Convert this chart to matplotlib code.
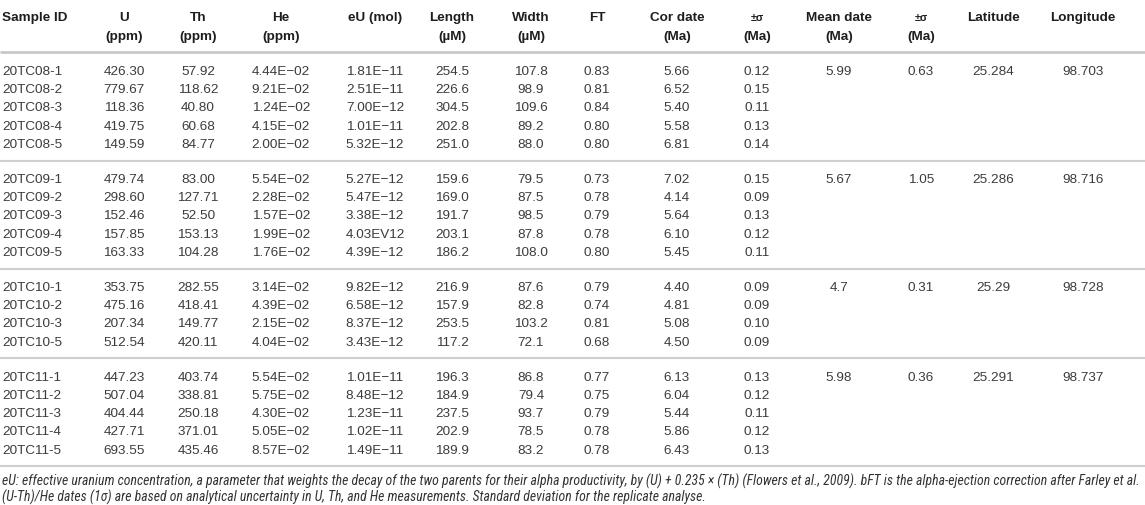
import matplotlib
matplotlib.use("Agg")
import matplotlib.pyplot as plt
from matplotlib import font_manager
from matplotlib.font_manager import FontProperties

# ---------------- data ----------------
sample_ids = ["20TC08-1", "20TC08-2", "20TC08-3", "20TC08-4", "20TC08-5",
              "20TC09-1", "20TC09-2", "20TC09-3", "20TC09-4", "20TC09-5",
              "20TC10-1", "20TC10-2", "20TC10-3", "20TC10-5",
              "20TC11-1", "20TC11-2", "20TC11-3", "20TC11-4", "20TC11-5"]
group_sizes = [5, 5, 4, 5]
u_ppm = [426.30, 779.67, 118.36, 419.75, 149.59,
         479.74, 298.60, 152.46, 157.85, 163.33,
         353.75, 475.16, 207.34, 512.54,
         447.23, 507.04, 404.44, 427.71, 693.55]
th_ppm = [57.92, 118.62, 40.80, 60.68, 84.77,
          83.00, 127.71, 52.50, 153.13, 104.28,
          282.55, 418.41, 149.77, 420.11,
          403.74, 338.81, 250.18, 371.01, 435.46]
he_ppm = [4.44e-2, 9.21e-2, 1.24e-2, 4.15e-2, 2.00e-2,
          5.54e-2, 2.28e-2, 1.57e-2, 1.99e-2, 1.76e-2,
          3.14e-2, 4.39e-2, 2.15e-2, 4.04e-2,
          5.54e-2, 5.75e-2, 4.30e-2, 5.05e-2, 8.57e-2]
eu_mol = ["1.81E−11", "2.51E−11", "7.00E−12", "1.01E−11", "5.32E−12",
          "5.27E−12", "5.47E−12", "3.38E−12", "4.03EV12", "4.39E−12",
          "9.82E−12", "6.58E−12", "8.37E−12", "3.43E−12",
          "1.01E−11", "8.48E−12", "1.23E−11", "1.02E−11", "1.49E−11"]
length_um = [254.5, 226.6, 304.5, 202.8, 251.0,
             159.6, 169.0, 191.7, 203.1, 186.2,
             216.9, 157.9, 253.5, 117.2,
             196.3, 184.9, 237.5, 202.9, 189.9]
width_um = [107.8, 98.9, 109.6, 89.2, 88.0,
            79.5, 87.5, 98.5, 87.8, 108.0,
            87.6, 82.8, 103.2, 72.1,
            86.8, 79.4, 93.7, 78.5, 83.2]
ft = [0.83, 0.81, 0.84, 0.80, 0.80,
      0.73, 0.78, 0.79, 0.78, 0.80,
      0.79, 0.74, 0.81, 0.68,
      0.77, 0.75, 0.79, 0.78, 0.78]
cor_date = [5.66, 6.52, 5.40, 5.58, 6.81,
            7.02, 4.14, 5.64, 6.10, 5.45,
            4.40, 4.81, 5.08, 4.50,
            6.13, 6.04, 5.44, 5.86, 6.43]
cor_sigma = [0.12, 0.15, 0.11, 0.13, 0.14,
             0.15, 0.09, 0.13, 0.12, 0.11,
             0.09, 0.09, 0.10, 0.09,
             0.13, 0.12, 0.11, 0.12, 0.13]
mean_date = ["5.99", "5.67", "4.7", "5.98"]
mean_sigma = ["0.63", "1.05", "0.31", "0.36"]
latitude = ["25.284", "25.286", "25.29", "25.291"]
longitude = ["98.703", "98.716", "98.728", "98.737"]

headers = [("Sample ID", ""), ("U", "(ppm)"), ("Th", "(ppm)"), ("He", "(ppm)"),
           ("eU (mol)", ""), ("Length", "(µM)"), ("Width", "(µM)"), ("FT", ""),
           ("Cor date", "(Ma)"), ("±σ", "(Ma)"), ("Mean date", "(Ma)"),
           ("±σ", "(Ma)"), ("Latitude", ""), ("Longitude", "")]

footnotes = [
    "eU: effective uranium concentration, a parameter that weights the decay of the two parents for their alpha productivity, by (U) + 0.235 × (Th) (Flowers et al., 2009). bFT is the alpha-ejection correction after Farley et al.",
    "(U-Th)/He dates (1σ) are based on analytical uncertainty in U, Th, and He measurements. Standard deviation for the replicate analyse.",
]

# ---------------- layout ----------------
W, H = 1145, 505
col_x = [2, 124, 198, 281, 375, 452, 531, 597, 677, 757, 839, 921, 993, 1083]
row_step = 18.25
group_step = 35.0
first_row = 70.0
fs = 9.7
hdr_y1, hdr_y2 = 16.5, 35.0
text_col = "#3c3c3c"
hdr_col = "#1e1e1e"
line_col = "#cfcfcf"

plt.rcParams["font.family"] = ["Liberation Sans", "DejaVu Sans"]

fig = plt.figure(figsize=(W / 100, H / 100), dpi=100)
ax = fig.add_axes([0, 0, 1, 1])
ax.set_xlim(0, W)
ax.set_ylim(H, 0)
ax.axis("off")

def put(x, y, s, ha="center", **kw):
    size = kw.pop("size", fs)
    off = fs * 1.389 * 0.36
    ax.text(x, y + off, s, ha=ha, va="baseline", fontsize=size,
            color=kw.pop("color", text_col), **kw)

# header
for i, (h1, h2) in enumerate(headers):
    ha = "left" if i == 0 else "center"
    if h1 == "±σ":
        put(col_x[i], hdr_y1, h1, ha=ha, size=fs * 0.8, color=hdr_col, fontweight="bold")
    else:
        put(col_x[i], hdr_y1, h1, ha=ha, color=hdr_col, fontweight="bold")
    if h2:
        put(col_x[i], hdr_y2, h2, ha=ha, color=hdr_col, fontweight="bold")

ax.plot([0, W], [52, 52], color="#c8c8c8", lw=2.0, solid_capstyle="butt")

# rows
row_y = []
y = first_row
idx = 0
group_first = []
sep_y = []
for g, n in enumerate(group_sizes):
    group_first.append(idx)
    for k in range(n):
        row_y.append(y)
        idx += 1
        if k < n - 1:
            y += row_step
    if g < len(group_sizes) - 1:
        sep_y.append(y + group_step / 2)
        y += group_step
sep_y.append(row_y[-1] + 17)

def efmt(v):
    return f"{v:.2E}".replace("-", "−")

for r in range(len(sample_ids)):
    yy = row_y[r]
    vals = [sample_ids[r], f"{u_ppm[r]:.2f}", f"{th_ppm[r]:.2f}", efmt(he_ppm[r]),
            eu_mol[r], f"{length_um[r]:.1f}", f"{width_um[r]:.1f}", f"{ft[r]:.2f}",
            f"{cor_date[r]:.2f}", f"{cor_sigma[r]:.2f}"]
    for c, s in enumerate(vals):
        put(col_x[c], yy, s, ha="left" if c == 0 else "center")

for g, r in enumerate(group_first):
    yy = row_y[r]
    for c, s in zip([10, 11, 12, 13], [mean_date[g], mean_sigma[g], latitude[g], longitude[g]]):
        put(col_x[c], yy, s)

for sy in sep_y:
    ax.plot([0, W], [sy, sy], color=line_col, lw=1.5, solid_capstyle="butt")

# footnotes: prefer a condensed italic sans face if one is installed
def pick_condensed():
    cands = []
    for f in font_manager.fontManager.ttflist:
        nm = (f.name + " " + str(f.fname)).lower()
        st = str(f.stretch).lower()
        is_cond = ("narrow" in nm or "condensed" in nm or st in ("condensed", "semi-condensed", "extra-condensed"))
        is_italic = f.style in ("italic", "oblique")
        if is_cond and is_italic and "mono" not in nm and "serif" not in nm.replace("sans-serif", "").replace("sans", ""):
            w = str(f.weight)
            reg = w in ("400", "normal", "regular", "book") or f.weight == 400
            pri = 0 if "liberation" in nm else (1 if "roboto" in nm else (2 if "noto" in nm else 3))
            cands.append((pri, 0 if reg else 1, f.fname))
    if cands:
        cands.sort()
        return FontProperties(fname=cands[0][2])
    return None

fp = pick_condensed()
fig.canvas.draw()
renderer = fig.canvas.get_renderer()
if fp is not None:
    kw = dict(fontproperties=fp)
else:
    kw = dict(style="italic", family=["Liberation Sans", "DejaVu Sans"])
t1 = ax.text(2, 486, footnotes[0], ha="left", va="baseline", color="#333333", **kw)
t1.set_fontsize(9)
w = t1.get_window_extent(renderer).width
fn_fs = 9 * 1138 / w
t1.set_fontsize(fn_fs)
t2 = ax.text(2, 502, footnotes[1], ha="left", va="baseline", color="#333333", **kw)
t2.set_fontsize(fn_fs)

fig.savefig("out.png", dpi=100)
